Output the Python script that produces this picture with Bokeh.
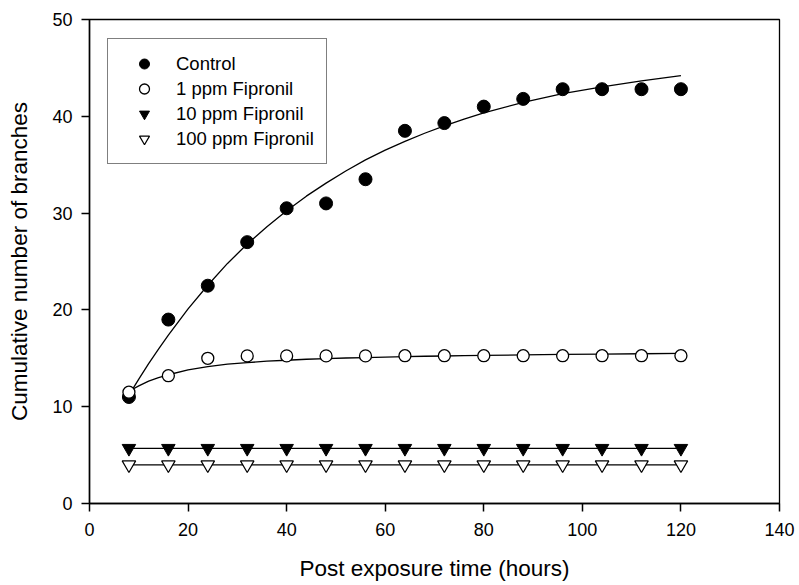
from bokeh.plotting import figure
from bokeh.models import Range1d, Legend, LegendItem, FixedTicker
from bokeh.embed import file_html
from bokeh.resources import INLINE

# ---- data ----
hours = [8, 16, 24, 32, 40, 48, 56, 64, 72, 80, 88, 96, 104, 112, 120]
control = [11.0, 19.0, 22.5, 27.0, 30.5, 31.0, 33.5, 38.5, 39.3, 41.0, 41.8, 42.8, 42.8, 42.8, 42.8]
ppm1 = [11.5, 13.2, 15.0, 15.25, 15.25, 15.25, 15.25, 15.27, 15.27, 15.27, 15.27, 15.27, 15.27, 15.27, 15.27]
ppm10 = [5.7] * 15
ppm100 = [4.0] * 15

# fitted curves
fit_x = [8, 10, 12, 14, 16, 20, 24, 28, 32, 36, 40, 44, 48, 52, 56, 60, 64, 68, 72, 76, 80, 88, 96, 104, 112, 120]
fit_control = [11.2, 12.85, 14.45, 15.95, 17.4, 20.1, 22.55, 24.8, 26.8, 28.6, 30.25, 31.75, 33.1, 34.35, 35.5,
               36.5, 37.4, 38.25, 39.0, 39.7, 40.35, 41.45, 42.35, 43.05, 43.65, 44.2]
fit_ppm1 = [11.6, 12.15, 12.65, 13.0, 13.3, 13.8, 14.15, 14.4, 14.55, 14.7, 14.8, 14.9, 14.97, 15.03, 15.08,
            15.13, 15.17, 15.21, 15.24, 15.27, 15.3, 15.35, 15.4, 15.44, 15.47, 15.5]
fit_ppm10 = [5.7, 5.7]
fit_ppm100 = [4.0, 4.0]
fit_flat_x = [8, 120]

x_ticks = [0, 20, 40, 60, 80, 100, 120, 140]
y_ticks = [0, 10, 20, 30, 40, 50]
labels = ["Control", "1 ppm Fipronil", "10 ppm Fipronil", "100 ppm Fipronil"]

FONT = "Liberation Sans"

p = figure(width=799, height=585, output_backend="svg", toolbar_location=None,
           x_range=Range1d(0, 140), y_range=Range1d(0, 50),
           min_border_left=89, min_border_right=20, min_border_top=19, min_border_bottom=82)

p.xgrid.visible = False
p.ygrid.visible = False
p.outline_line_color = "black"
p.outline_line_width = 1.3
p.background_fill_color = "white"
p.border_fill_color = "white"

for ax in (p.xaxis[0], p.yaxis[0]):
    ax.axis_line_color = "black"
    ax.axis_line_width = 1.5
    ax.major_tick_line_color = "black"
    ax.major_tick_line_width = 1.5
    ax.major_tick_in = 0
    ax.major_tick_out = 8
    ax.minor_tick_line_color = None
    ax.major_label_text_font = FONT
    ax.major_label_text_font_size = "18px"
    ax.major_label_text_color = "black"
    ax.axis_label_text_font = FONT
    ax.axis_label_text_font_size = "22.5px"
    ax.axis_label_text_font_style = "normal"
    ax.axis_label_text_color = "black"

p.xaxis.ticker = FixedTicker(ticks=x_ticks)
p.yaxis.ticker = FixedTicker(ticks=y_ticks)
p.xaxis.axis_label = "Post exposure time (hours)"
p.yaxis.axis_label = "Cumulative number of branches"
p.xaxis.major_label_standoff = 11
p.yaxis.major_label_standoff = 9
p.xaxis.axis_label_standoff = 17
p.yaxis.axis_label_standoff = 17

# fit lines
p.line(fit_x, fit_control, line_color="black", line_width=1.3)
p.line(fit_x, fit_ppm1, line_color="black", line_width=1.3)
p.line(fit_flat_x, fit_ppm10, line_color="black", line_width=1.3)
p.line(fit_flat_x, fit_ppm100, line_color="black", line_width=1.3)

# markers
r_c = p.scatter(hours, control, marker="circle", size=13, fill_color="black", line_color="black", line_width=1)
r_1 = p.scatter(hours, ppm1, marker="circle", size=12, fill_color="white", line_color="black", line_width=1.3)
r_10 = p.scatter(hours, ppm10, marker="inverted_triangle", size=13.5, fill_color="black", line_color="black", line_width=1)
r_100 = p.scatter(hours, ppm100, marker="inverted_triangle", size=13.5, fill_color="white", line_color="black", line_width=1.2)

legend = Legend(items=[LegendItem(label=labels[0], renderers=[r_c]),
                       LegendItem(label=labels[1], renderers=[r_1]),
                       LegendItem(label=labels[2], renderers=[r_10]),
                       LegendItem(label=labels[3], renderers=[r_100])],
                location=(18, 339))
legend.margin = 0
legend.padding = 12
legend.glyph_width = 48
legend.glyph_height = 25
legend.spacing = 0
legend.label_standoff = 8
legend.label_text_font = FONT
legend.label_text_font_size = "18.5px"
legend.label_text_color = "black"
legend.border_line_color = "black"
legend.border_line_width = 1.2
legend.background_fill_alpha = 1.0
legend.background_fill_color = "white"
p.add_layout(legend, "center")

open("out.html", "w").write(file_html(p, INLINE))
